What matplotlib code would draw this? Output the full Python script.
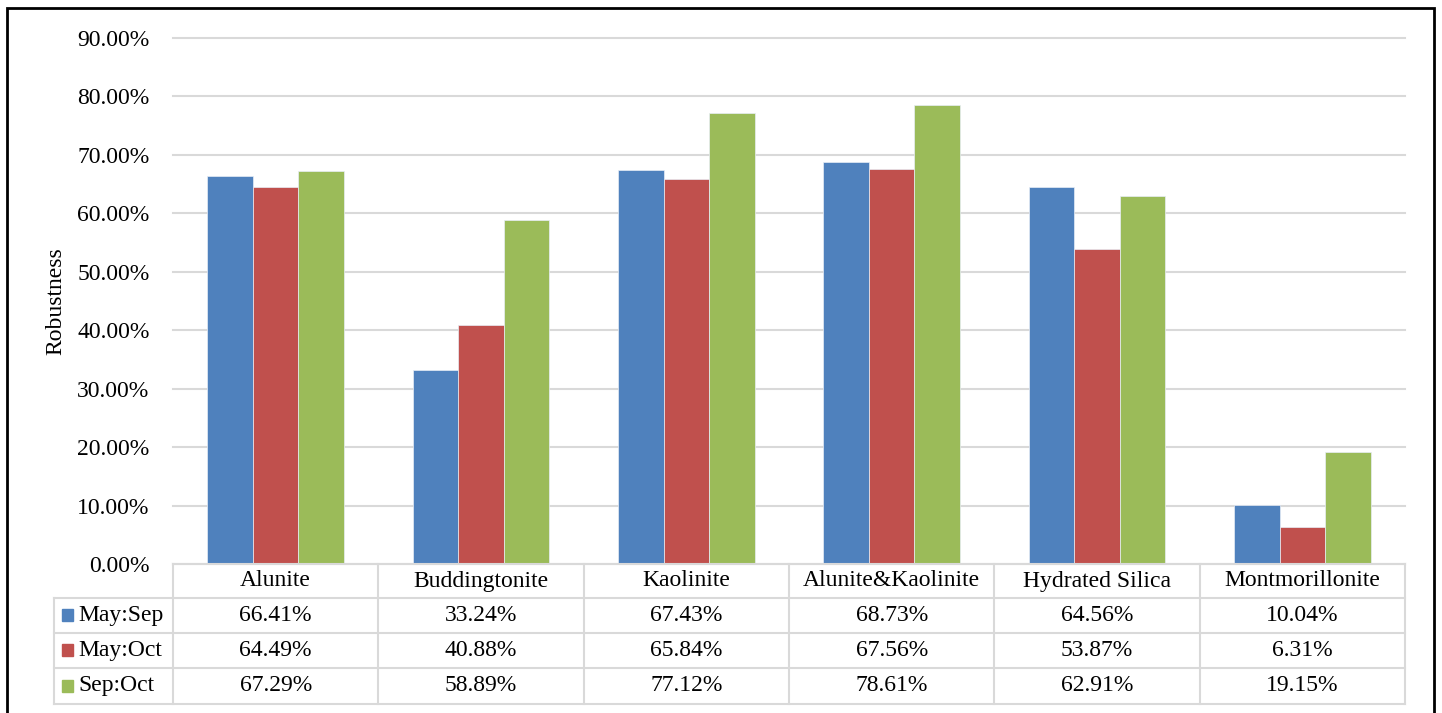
import matplotlib
matplotlib.use("Agg")
import matplotlib.pyplot as plt
from matplotlib.patches import Rectangle
from matplotlib.lines import Line2D
from matplotlib.ticker import FuncFormatter
import numpy as np

plt.rcParams['font.family'] = ['Liberation Serif', 'DejaVu Serif']

categories = ["Alunite", "Buddingtonite", "Kaolinite", "Alunite&Kaolinite",
              "Hydrated Silica", "Montmorillonite"]
series_names = ["May:Sep", "May:Oct", "Sep:Oct"]
may_sep = [66.41, 33.24, 67.43, 68.73, 64.56, 10.04]
may_oct = [64.49, 40.88, 65.84, 67.56, 53.87, 6.31]
sep_oct = [67.29, 58.89, 77.12, 78.61, 62.91, 19.15]
colors = ["#4F81BD", "#C0504D", "#9BBB59"]
yticks = [0, 10, 20, 30, 40, 50, 60, 70, 80, 90]

W, H = 1442, 713
fig = plt.figure(figsize=(W / 100, H / 100), dpi=100)

ax_l, ax_r, ax_t, ax_b = 173, 1405, 38, 564
ax = fig.add_axes([ax_l / W, 1 - ax_b / H, (ax_r - ax_l) / W, (ax_b - ax_t) / H])

series = [may_sep, may_oct, sep_oct]
x = np.arange(len(categories))
bw = 0.222
for k, (vals, c) in enumerate(zip(series, colors)):
    ax.bar(x + (k - 1) * bw, np.array(vals) / 100, width=bw, color=c,
           edgecolor="#e8eef6", linewidth=0.5, zorder=3)

fs = 17

ax.set_xlim(-0.5, len(categories) - 0.5)
ax.set_ylim(0, 0.9)
ax.set_yticks(np.array(yticks) / 100)
ax.yaxis.set_major_formatter(FuncFormatter(lambda v, p: f"{v:.2%}"))
ax.tick_params(axis="y", length=0, pad=17, labelsize=fs)
ax.set_xticks([])
ax.grid(axis="y", color="#d9d9d9", linewidth=1.5, zorder=0)
for gl in ax.get_ygridlines():
    gl.set_clip_on(False)
for s in ax.spines.values():
    s.set_visible(False)

ax.text((56 - ax_l) / (ax_r - ax_l), 0.5, "Robustness", rotation=90,
        ha="center", va="center", fontsize=fs, transform=ax.transAxes)

# data table under the axes
ph = ax_b - ax_t
def ay(py):
    return (ax_b - py) / ph
def axx(px):
    return (px - ax_l) / (ax_r - ax_l)

row_edges = [564, 598, 632.5, 668, 703.5]
xt = ax.get_xaxis_transform()
tc = "#d9d9d9"
lw = 1.5

# horizontal lines
for i, py in enumerate(row_edges):
    x0 = ax_l if i == 0 else 53.5
    ax.add_line(Line2D([axx(x0), 1], [ay(py), ay(py)], transform=ax.transAxes,
                       color=tc, lw=lw, clip_on=False, zorder=4))
# vertical lines between category columns
for b in np.arange(len(categories) + 1) - 0.5:
    ax.add_line(Line2D([b, b], [ay(row_edges[0]), ay(row_edges[-1])], transform=xt,
                       color=tc, lw=lw, clip_on=False, zorder=4))
ax.add_line(Line2D([axx(53.5)] * 2, [ay(row_edges[1]), ay(row_edges[-1])],
                   transform=ax.transAxes, color=tc, lw=lw, clip_on=False, zorder=4))

# header
hy = ay((row_edges[0] + row_edges[1]) / 2)
for i, cat in enumerate(categories):
    ax.text(i, hy, cat, transform=xt, ha="center", va="center", fontsize=fs, clip_on=False)

# rows
for r, (name, vals, c) in enumerate(zip(series_names, series, colors)):
    cy = ay((row_edges[r + 1] + row_edges[r + 2]) / 2)
    sq = 12 / ph
    ax.add_patch(Rectangle((axx(62), cy - sq / 2), 11 / (ax_r - ax_l), sq,
                           transform=ax.transAxes, color=c, clip_on=False))
    ax.text(axx(78), cy, name, transform=ax.transAxes, ha="left", va="center",
            fontsize=fs, clip_on=False)
    for i, v in enumerate(vals):
        ax.text(i, cy, f"{v:.2f}%", transform=xt, ha="center", va="center",
                fontsize=fs, clip_on=False)

# outer frame
fig.patches.append(Rectangle((7 / W, -0.05), (1434 - 7) / W, 1.05 - 7.5 / H,
                             transform=fig.transFigure, fill=False,
                             edgecolor="black", linewidth=2))

fig.savefig("out.png", dpi=100)
